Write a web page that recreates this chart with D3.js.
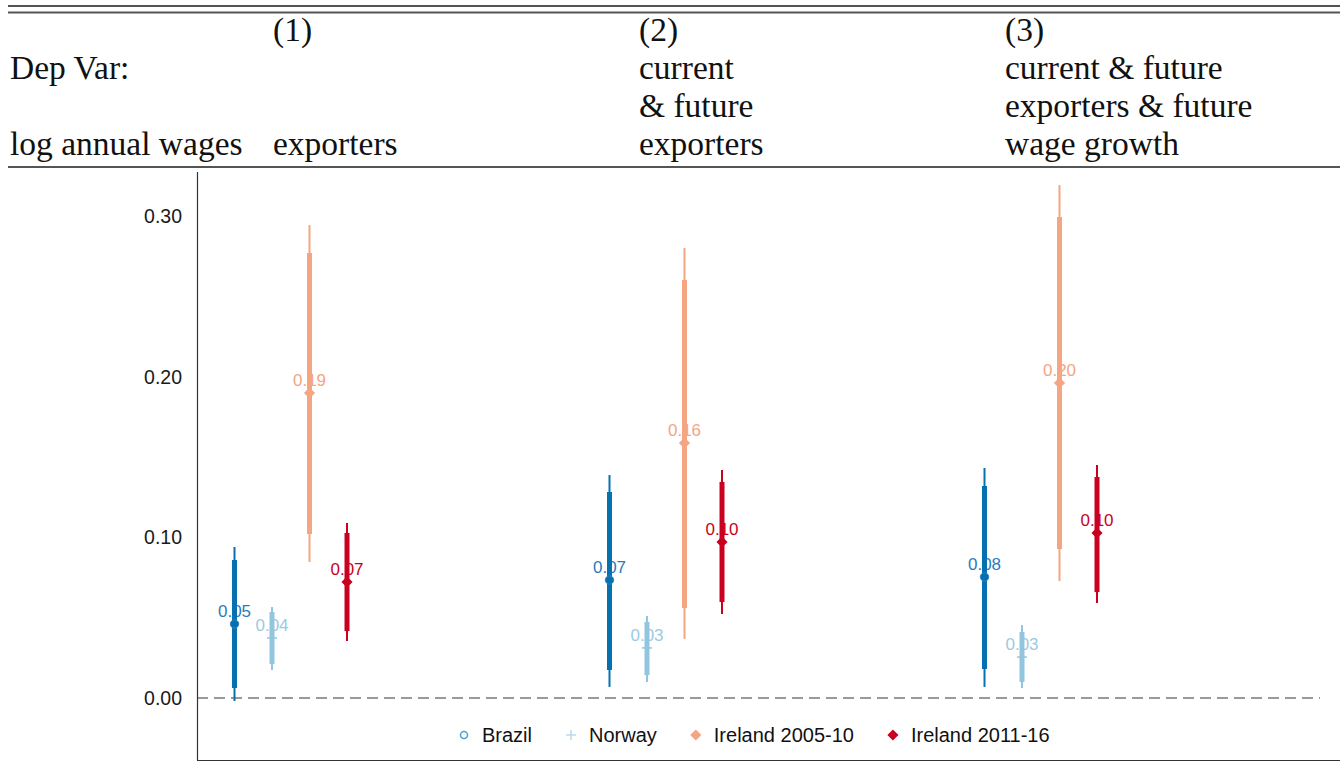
<!DOCTYPE html>
<html>
<head>
<meta charset="utf-8">
<script src="https://cdn.jsdelivr.net/npm/d3@7"></script>
<style>
  body { margin: 0; background: #fff; }
  svg { display: block; }
</style>
</head>
<body>
<svg id="chart" width="1343" height="774"></svg>
<script>
// ---- table header ----
const columnNumbers = ["(1)", "(2)", "(3)"];
const depVarLabel = ["Dep Var:", "", "log annual wages"];
const columnDepVars = [
  ["", "", "exporters"],
  ["current", "& future", "exporters"],
  ["current & future", "exporters & future", "wage growth"]
];

// ---- coefficient estimates by specification (1)-(3) ----
const seriesNames = ["Brazil", "Norway", "Ireland 2005-10", "Ireland 2011-16"];
const seriesColors = ["#0571b0", "#92c5de", "#f4a582", "#ca0020"];
const labelColors = ["#2b7bbb", "#9ccae2", "#f4a582", "#ca0020"];
const seriesSymbols = ["circle", "plus", "diamond", "diamond"];

const brazilCoef = [0.0461, 0.0735, 0.0754];
const brazilCI90 = [[0.0062, 0.0860], [0.0174, 0.1283], [0.0181, 0.1321]];
const brazilCI95 = [[-0.0019, 0.0941], [0.0069, 0.1389], [0.0069, 0.1433]];

const norwayCoef = [0.0374, 0.0312, 0.0255];
const norwayCI90 = [[0.0212, 0.0536], [0.0143, 0.0474], [0.0100, 0.0411]];
const norwayCI95 = [[0.0174, 0.0567], [0.0100, 0.0511], [0.0062, 0.0455]];

const ireland0510Coef = [0.1900, 0.1589, 0.1963];
const ireland0510CI90 = [[0.1022, 0.2773], [0.0561, 0.2604], [0.0928, 0.2997]];
const ireland0510CI95 = [[0.0847, 0.2947], [0.0368, 0.2804], [0.0729, 0.3196]];

const ireland1116Coef = [0.0723, 0.0972, 0.1028];
const ireland1116CI90 = [[0.0417, 0.1028], [0.0598, 0.1346], [0.0660, 0.1377]];
const ireland1116CI95 = [[0.0355, 0.1090], [0.0523, 0.1421], [0.0592, 0.1452]];

const yTicks = [0, 0.1, 0.2, 0.3];

const coefs = [brazilCoef, norwayCoef, ireland0510Coef, ireland1116Coef];
const ci90s = [brazilCI90, norwayCI90, ireland0510CI90, ireland1116CI90];
const ci95s = [brazilCI95, norwayCI95, ireland0510CI95, ireland1116CI95];

const points = [];
seriesNames.forEach((name, s) => {
  coefs[s].forEach((c, g) => {
    points.push({
      series: s, group: g + 1, coef: c,
      lo90: ci90s[s][g][0], hi90: ci90s[s][g][1],
      lo95: ci95s[s][g][0], hi95: ci95s[s][g][1]
    });
  });
});

const svg = d3.select("#chart");
const serif = "'Liberation Serif', 'Times New Roman', serif";
const sans = "'Liberation Sans', Arial, Helvetica, sans-serif";

// ---- header rules and text ----
const header = svg.append("g");
header.append("line").attr("x1", 8).attr("x2", 1340).attr("y1", 6).attr("y2", 6)
  .attr("stroke", "#1a1a1a").attr("stroke-width", 1.4);
header.append("line").attr("x1", 8).attr("x2", 1340).attr("y1", 12.5).attr("y2", 12.5)
  .attr("stroke", "#555").attr("stroke-width", 2);
header.append("line").attr("x1", 8).attr("x2", 1340).attr("y1", 167).attr("y2", 167)
  .attr("stroke", "#555").attr("stroke-width", 2);

const rowBaselines = [41, 79, 117, 155];
const colX = [273, 639, 1005];
const headerText = (x, y, t) => header.append("text")
  .attr("x", x).attr("y", y).text(t)
  .attr("font-family", serif).attr("font-size", 33.5).attr("fill", "#111");

depVarLabel.forEach((t, i) => { if (t) headerText(10, rowBaselines[i + 1], t); });
columnNumbers.forEach((t, i) => headerText(colX[i], rowBaselines[0], t));
columnDepVars.forEach((lines, i) => lines.forEach((t, r) => {
  if (t) headerText(colX[i], rowBaselines[r + 1], t);
}));

// ---- plot ----
const plotLeft = 197, plotRight = 1340, plotTop = 172, plotBottom = 760;

const x = d3.scaleLinear().domain([0.75, 3.75]).range([plotLeft, 1322]);
const y = d3.scaleLinear().domain([0, 0.3]).range([698, 216.5]);
const offset = s => (s - 1.5) * 0.1;

const plot = svg.append("g");

// y axis labels
const yAxis = d3.axisLeft(y).tickValues(yTicks).tickFormat(d3.format(".2f"))
  .tickSize(0).tickPadding(15);
const yAxisG = plot.append("g").attr("transform", `translate(${plotLeft},0)`).call(yAxis);
yAxisG.select(".domain").remove();
yAxisG.selectAll("text").attr("font-family", sans).attr("font-size", 19.5).attr("fill", "#1a1a1a");

// reference line at zero
plot.append("line")
  .attr("x1", plotLeft).attr("x2", 1320)
  .attr("y1", y(0)).attr("y2", y(0))
  .attr("stroke", "#9a9a9a").attr("stroke-width", 2)
  .attr("stroke-dasharray", "11,6");

// axis lines
plot.append("line").attr("x1", plotLeft + 0.5).attr("x2", plotLeft + 0.5)
  .attr("y1", plotTop).attr("y2", plotBottom).attr("stroke", "#333").attr("stroke-width", 1.2);
plot.append("line").attr("x1", plotLeft).attr("x2", plotRight)
  .attr("y1", plotBottom + 0.5).attr("y2", plotBottom + 0.5).attr("stroke", "#333").attr("stroke-width", 1.2);

const px = d => x(d.group + offset(d.series));
const fmt = d3.format(".2f");

// value labels (drawn under the intervals)
plot.append("g").selectAll("text").data(points).join("text")
  .attr("x", px).attr("y", d => y(d.coef) - 7)
  .attr("text-anchor", "middle")
  .attr("font-family", sans).attr("font-size", 17)
  .attr("fill", d => labelColors[d.series])
  .text(d => fmt(d.coef));

// 95% intervals
plot.append("g").selectAll("line").data(points).join("line")
  .attr("x1", px).attr("x2", px)
  .attr("y1", d => y(d.lo95)).attr("y2", d => y(d.hi95))
  .attr("stroke", d => seriesColors[d.series]).attr("stroke-width", 2);

// 90% intervals
plot.append("g").selectAll("line").data(points).join("line")
  .attr("x1", px).attr("x2", px)
  .attr("y1", d => y(d.lo90)).attr("y2", d => y(d.hi90))
  .attr("stroke", d => seriesColors[d.series]).attr("stroke-width", 5);

// point markers
function drawMarker(g, sym, color, size, legend) {
  if (sym === "circle") {
    if (legend) {
      g.append("circle").attr("r", 3.5).attr("fill", "none")
        .attr("stroke", "#4f9fd0").attr("stroke-width", 1.5);
    } else {
      g.append("circle").attr("r", 4.2).attr("fill", color)
        .attr("stroke", "#2f82c0").attr("stroke-width", 1);
    }
  } else if (sym === "plus") {
    g.append("line").attr("x1", -size).attr("x2", size).attr("y1", 0).attr("y2", 0)
      .attr("stroke", color).attr("stroke-width", 1.5);
    if (legend) {
      g.append("line").attr("x1", 0).attr("x2", 0).attr("y1", -size).attr("y2", size)
        .attr("stroke", color).attr("stroke-width", 1.5);
    }
  } else {
    g.append("path")
      .attr("d", d3.symbol(d3.symbolDiamond2, size * size * 2.2)())
      .attr("fill", color);
  }
}

points.forEach(d => {
  const g = plot.append("g").attr("transform", `translate(${px(d)},${y(d.coef)})`);
  drawMarker(g, seriesSymbols[d.series], seriesColors[d.series], d.series === 1 ? 5 : 6, false);
});

// ---- legend ----
const legend = svg.append("g").attr("transform", "translate(0,735)");
const legendMarkerColors = ["#4f9fd0", "#b9dbed", "#f4a582", "#ca0020"];
let lx = 464;
seriesNames.forEach((name, s) => {
  const mg = legend.append("g").attr("transform", `translate(${lx},0)`);
  drawMarker(mg, seriesSymbols[s], legendMarkerColors[s], s === 1 ? 5 : 6, true);
  const t = legend.append("text").attr("x", lx + 18).attr("y", 7)
    .attr("font-family", sans).attr("font-size", 20).attr("fill", "#111")
    .text(name);
  lx = lx + 18 + t.node().getComputedTextLength() + 39;
});
</script>
</body>
</html>
